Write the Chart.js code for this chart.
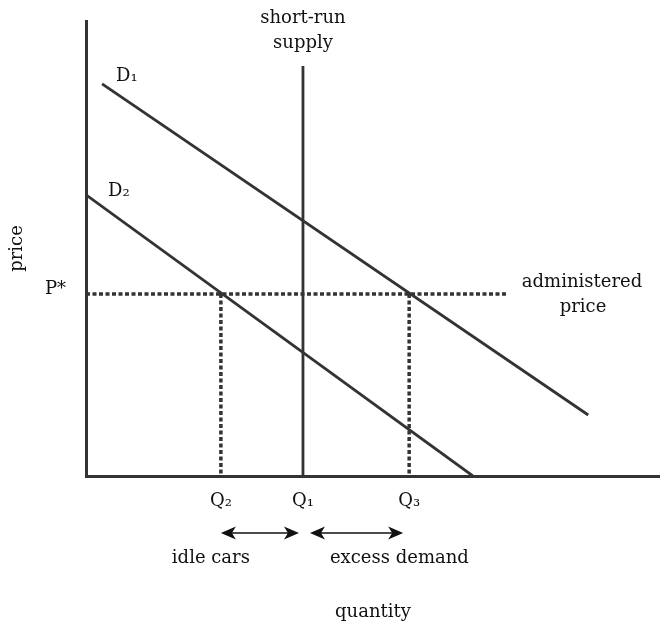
<!DOCTYPE html>
<html>
<head>
<meta charset="utf-8">
<script src="https://cdn.jsdelivr.net/npm/chart.js@4/dist/chart.umd.min.js"></script>
<style>
  body{margin:0;background:#fff;}
  #wrap{width:660px;height:624px;}
</style>
</head>
<body>
<div id="wrap"><canvas id="chart" width="660" height="624"></canvas></div>
<script>
// quantity / price values of the diagram (0-100 units)
const quantityTicks = [23.5, 37.8, 56.3];
const quantityLabels = ['Q\u2082', 'Q\u2081', 'Q\u2083'];
const priceTicks = [40];
const priceLabels = ['P*'];

const d1Q = [2.8, 87.5];
const d1P = [86.2, 13.4];
const d2Q = [0, 67.4];
const d2P = [61.8, 0];
const supplyQ = [37.8, 37.8];
const supplyP = [0, 90.1];
const adminQ = [0, 73.5];
const adminP = [40, 40];
const q2DropQ = [23.5, 23.5];
const q2DropP = [40, 0];
const q3DropQ = [56.3, 56.3];
const q3DropP = [40, 0];

const FONT = 'DejaVu Serif';
const INK = '#333';

function pts(xs, ys){ return xs.map((x,i)=>({x:x, y:ys[i]})); }

function solid(data){
    return {data:data, borderColor:INK, borderWidth:2.8, pointRadius:0, showLine:true, fill:false};
}
function dotted(data){
    return {data:data, borderColor:INK, borderWidth:3.5, borderDash:[4,2.5], borderCapStyle:'butt', pointRadius:0, showLine:true, fill:false};
}

// arrow with heads at both ends
function arrow(ctx, x1, x2, y){
    ctx.save();
    ctx.strokeStyle = '#111';
    ctx.fillStyle = '#111';
    ctx.lineWidth = 1.6;
    ctx.beginPath(); ctx.moveTo(x1+10, y); ctx.lineTo(x2-10, y); ctx.stroke();
    [[x1,1],[x2,-1]].forEach(([x,d])=>{
        ctx.beginPath();
        ctx.moveTo(x, y);
        ctx.lineTo(x+d*15, y-6.5);
        ctx.lineTo(x+d*11, y);
        ctx.lineTo(x+d*15, y+6.5);
        ctx.closePath();
        ctx.fill();
    });
    ctx.restore();
}

const notes = {
    id:'notes',
    afterDatasetsDraw(chart){
        const ctx = chart.ctx;
        const xs = chart.scales.x;
        ctx.save();
        ctx.fillStyle = '#111';
        ctx.font = '18px "' + FONT + '"';
        ctx.textBaseline = 'middle';
        ctx.textAlign = 'center';
        const q1 = xs.getPixelForValue(quantityTicks[1]);
        const q2 = xs.getPixelForValue(quantityTicks[0]);
        const q3 = xs.getPixelForValue(quantityTicks[2]);
        ctx.fillText('short-run', q1, 18);
        ctx.fillText('supply', q1, 43);
        ctx.fillText('administered', 582, 282);
        ctx.fillText('price', 583, 307);
        ctx.fillText('idle cars', q2 - 10, 558);
        ctx.textAlign = 'left';
        ctx.fillText('excess demand', q1 + 27, 558);
        ctx.fillText('D\u2081', 116, 76);
        ctx.fillText('D\u2082', 108, 191);
        ctx.restore();
        arrow(ctx, q2, q1 - 4, 533);
        arrow(ctx, q1 + 7, q3 - 6, 533);
    }
};

function noPad(s){ s.paddingTop = 0; s.paddingBottom = 0; s.paddingLeft = 0; s.paddingRight = 0; }

new Chart(document.getElementById('chart').getContext('2d'), {
    type:'scatter',
    data:{datasets:[
        solid(pts(d1Q, d1P)),
        solid(pts(d2Q, d2P)),
        solid(pts(supplyQ, supplyP)),
        dotted(pts(adminQ, adminP)),
        dotted(pts(q2DropQ, q2DropP)),
        dotted(pts(q3DropQ, q3DropP))
    ]},
    options:{
        responsive:false,
        animation:false,
        layout:{padding:{top:21, right:0, left:0, bottom:0}},
        plugins:{legend:{display:false}, tooltip:{enabled:false}},
        scales:{
            x:{
                type:'linear', min:0, max:100,
                grid:{display:false, drawTicks:false},
                border:{display:true, color:INK, width:3},
                ticks:{color:'#111', font:{family:FONT, size:18}, padding:15, autoSkip:false, maxRotation:0,
                    callback:(v,i)=>quantityLabels[i]},
                afterBuildTicks:s=>{ s.ticks = quantityTicks.map(v=>({value:v})); },
                afterFit:s=>{ s.height = 148; noPad(s); },
                title:{display:true, text:'quantity', color:'#111', font:{family:FONT, size:18}, padding:{top:0, bottom:1}}
            },
            y:{
                type:'linear', min:0, max:100,
                grid:{display:false, drawTicks:false},
                border:{display:true, color:INK, width:3},
                ticks:{color:'#111', font:{family:FONT, size:18}, padding:20, labelOffset:-5, autoSkip:false,
                    callback:(v,i)=>priceLabels[i]},
                afterBuildTicks:s=>{ s.ticks = priceTicks.map(v=>({value:v})); },
                afterFit:s=>{ s.width = 86; noPad(s); },
                title:{display:true, text:'price', color:'#111', font:{family:FONT, size:18}, padding:{top:7, bottom:0}}
            }
        }
    },
    plugins:[notes]
});
</script>
</body>
</html>
